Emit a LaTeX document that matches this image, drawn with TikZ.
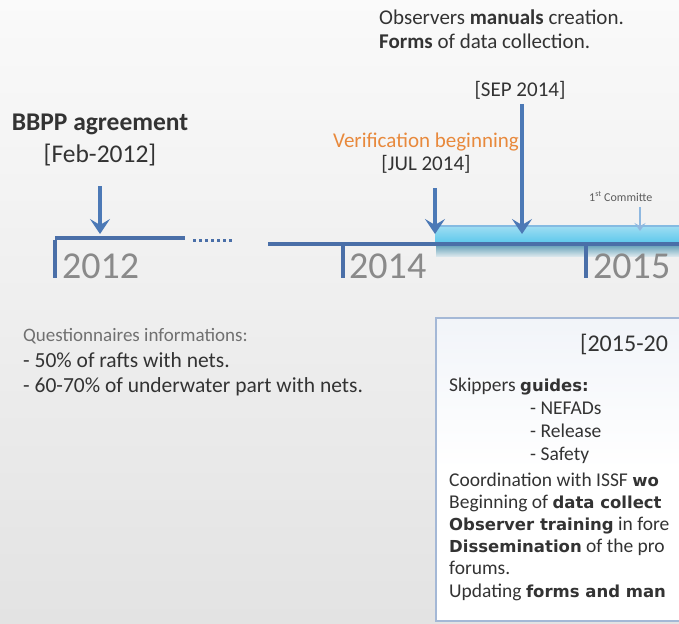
\documentclass[tikz,border=0pt]{standalone}
\usepackage{fontspec}
\setmainfont{Carlito}
\newfontfamily\boxboldfam{DejaVu Sans}
\newcommand\bxb[1]{{\fontsize{16.5}{22}\boxboldfam\bfseries\selectfont #1}}
\usetikzlibrary{arrows.meta}
\definecolor{tl}{HTML}{4A6FA8}
\definecolor{arr}{HTML}{4C79B6}
\definecolor{txt}{HTML}{333333}
\definecolor{yr}{HTML}{8A8A8A}
\definecolor{org}{HTML}{E8893C}
\definecolor{band}{HTML}{5CC8EC}
\definecolor{bandtop}{HTML}{9FDDF2}
\definecolor{shadowc}{HTML}{4E93AE}
\definecolor{boxline}{HTML}{A4B8D6}
\definecolor{lightarr}{HTML}{8FB8E0}
\tikzset{
  tlline/.style={draw=tl, line width=3.5pt},
  evarrow/.style={draw=arr, line width=3.2pt, -{Stealth[length=15pt,width=20pt,inset=6pt]}},
  smallarrow/.style={draw=lightarr, line width=2pt, -{Stealth[length=8pt,width=11pt,inset=3pt]}},
  yeartext/.style={font=\fontsize{38}{40}\selectfont, text=yr, inner sep=0pt, anchor=base west},
  lbl/.style={font=\fontsize{21}{24}\selectfont, text=txt, inner sep=0pt},
  boxtxt/.style={font=\fontsize{19.5}{22}\selectfont, text=txt, inner sep=0pt, anchor=base west},
}
\begin{document}
\begin{tikzpicture}[x=1pt,y=-1pt]
\clip (0,0) rectangle (679,623);
\shade[top color=white!98!black, bottom color=white!89!black] (0,0) rectangle (679,623);

% timeline pieces
\coordinate (t12a) at (55,238);
\coordinate (t12b) at (185,238);
\draw[tlline] (t12a) -- (t12b);
\coordinate (t12tick) at (55,278);
\draw[tlline] ([yshift=-1.75pt]t12a) -- (t12tick);
\coordinate (dotsA) at (193,240);
\coordinate (dotsB) at (234,240);
\draw[draw=tl, line width=3pt, dash pattern=on 3pt off 3pt] (dotsA) -- (dotsB);
\coordinate (t14a) at (268,244);
\coordinate (bandL) at (435,244);
\draw[tlline] (t14a) -- (bandL);

% band
\shade[top color=bandtop, bottom color=band] (435,226) rectangle (690,243);
\draw[draw=lightarr!80!band, line width=1.2pt] (435,226) -- (690,226);
\shade[top color=shadowc, bottom color=shadowc!25!white, opacity=0.85] (436,245) rectangle (690,256);
\coordinate (bandR) at (690,244);
\draw[tlline] (bandL) -- (bandR);

% ticks
\coordinate (t14top) at (343,244);
\coordinate (t14bot) at (343,278);
\draw[tlline] (t14top) -- (t14bot);
\coordinate (t15top) at (586,244);
\coordinate (t15bot) at (586,278);
\draw[tlline] (t15top) -- (t15bot);

% years
\node[yeartext] (y2012) at (62,278) {2012};
\node[yeartext] (y2014) at (349,278) {2014};
\node[yeartext] (y2015) at (593,278) {2015};

% labels
\node[lbl, anchor=base west] (obs1) at (379,25) {Observers \textbf{manuals} creation.};
\node[lbl, anchor=base west] (obs2) at (379,49) {\textbf{Forms} of data collection.};
\node[lbl, anchor=base] (sep) at (520,97) {[SEP 2014]};
\node[lbl, anchor=base, font=\fontsize{25.5}{28}\bfseries] (bbpp) at (100,130) {BBPP agreement};
\node[lbl, anchor=base, font=\fontsize{25.5}{28}\selectfont] (feb) at (100,162) {[Feb-2012]};
\node[lbl, anchor=base, text=org] (verif) at (426,147) {Verification beginning};
\node[lbl, anchor=base] (jul) at (426,170) {[JUL 2014]};
\node[lbl, anchor=base west, font=\fontsize{12}{14}\selectfont, text=txt!80] (comm) at (589,201) {1\textsuperscript{st} Committe};

% arrows
\coordinate (a1s) at (100,186); \coordinate (a1e) at (100,234);
\draw[evarrow] (a1s) -- (a1e);
\coordinate (a2s) at (435,188); \coordinate (a2e) at (435,234);
\draw[evarrow] (a2s) -- (a2e);
\coordinate (a3s) at (522,104); \coordinate (a3e) at (522,234);
\draw[evarrow] (a3s) -- (a3e);
\coordinate (a4s) at (640,207); \coordinate (a4e) at (640,231);
\draw[smallarrow] (a4s) -- (a4e);

% questionnaires
\node[lbl, anchor=base west, font=\fontsize{19}{22}\selectfont, text=txt!70] (q0) at (23,341) {Questionnaires informations:};
\node[lbl, anchor=base west, font=\fontsize{21.5}{24}\selectfont] (q1) at (23,367) {- 50\% of rafts with nets.};
\node[lbl, anchor=base west, font=\fontsize{21.5}{24}\selectfont] (q2) at (23,392) {- 60-70\% of underwater part with nets.};

% box
\draw[draw=boxline, line width=2pt, top color=boxline!15!white, bottom color=white, middle color=white] (436,318) rectangle (700,621);
\node[boxtxt, font=\fontsize{24}{28}\selectfont] (period) at (580,351) {[2015-20};
\node[boxtxt] (b1) at (449,391) {Skippers \bxb{guides:}};
\node[boxtxt] (b2) at (530,414) {- NEFADs};
\node[boxtxt] (b3) at (530,437) {- Release};
\node[boxtxt] (b4) at (530,460) {- Safety};
\node[boxtxt] (b5) at (449,486) {Coordination with ISSF \bxb{wo}};
\node[boxtxt] (b6) at (449,508) {Beginning of \bxb{data collect}};
\node[boxtxt] (b7) at (449,530) {\bxb{Observer training} in fore};
\node[boxtxt] (b8) at (449,552) {\bxb{Dissemination} of the pro};
\node[boxtxt] (b9) at (449,574) {forums.};
\node[boxtxt] (b10) at (449,597) {Updating \bxb{forms and man}};
\end{tikzpicture}
\end{document}
